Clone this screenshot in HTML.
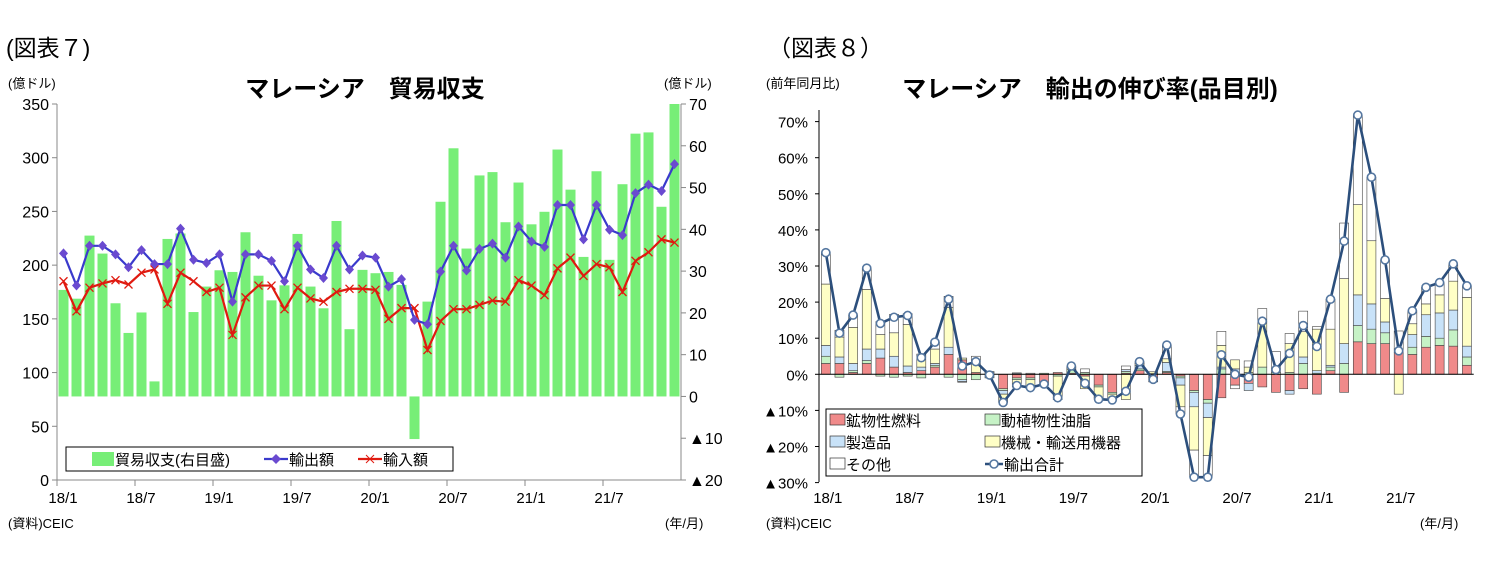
<!DOCTYPE html>
<html><head><meta charset="utf-8">
<style>
body{margin:0;background:#fff;width:1493px;height:574px;overflow:hidden;font-family:"Liberation Sans","Noto Sans CJK JP",sans-serif;}
svg text{font-family:"Liberation Sans","Noto Sans CJK JP",sans-serif;}
</style></head>
<body>
<svg id="s" width="1493" height="574" xmlns="http://www.w3.org/2000/svg">
<text x="6" y="56" font-size="23">(図表７)</text>
<text x="768" y="56" font-size="23">（図表８）</text>
<text x="365" y="97" font-size="24" font-weight="bold" text-anchor="middle">マレーシア　貿易収支</text>
<text x="1090" y="97" font-size="24" font-weight="bold" text-anchor="middle">マレーシア　輸出の伸び率(品目別)</text>
<text x="8" y="88" font-size="13">(億ドル)</text>
<text x="664" y="88" font-size="13">(億ドル)</text>
<text x="766" y="88" font-size="13">(前年同月比)</text>
<text x="8" y="528" font-size="13">(資料)CEIC</text>
<text x="766" y="528" font-size="13">(資料)CEIC</text>
<text x="665" y="528" font-size="13">(年/月)</text>
<text x="1420" y="528" font-size="13">(年/月)</text>
<g id="left"></g><g id="right"></g>
</svg>
<script>
const months=[];for(let y=18;y<=21;y++)for(let m=1;m<=12;m++)months.push(y+'/'+m);
const balance=[25.5,23.4,38.5,34.2,22.3,15.2,20.1,3.6,37.7,39,20.2,26.3,30.2,29.8,39.3,28.9,23.0,26.6,38.9,26.3,21.1,42.0,16.1,30.3,29.5,29.8,26.7,-10.2,22.7,46.6,59.4,35.4,52.9,53.7,41.7,51.2,41.2,44.2,59.1,49.5,33.4,53.9,32.7,50.8,62.9,63.2,45.4,70.0];
const exportsV=[211,181,218,218,210,198,214,201,201,234,205,202,210,166,210,210,204,185,218,196,188,218,196,209,207,180,187,149,145,194,218,195,215,220,207,236,222,217,256,256,224,256,233,228,267,275,269,294];
const importsV=[185,157,179,183,186,182,193,196,164,193,185,175,179,135,170,181,181,159,179,169,166,175,178,178,177,150,160,160,121,148,159,159,163,167,166,186,181,172,197,207,190,201,198,175,204,212,224,221];
const leftTicks=[0,50,100,150,200,250,300,350];
const rightTicks=[-20,-10,0,10,20,30,40,50,60,70];
const fuel=[3,3,0.5,3,4.5,2,0.5,1,2,5.5,4,0.5,0,-4,-1,-1,-3,0.5,0.3,-0.5,-3,-5,0.3,1,-1,0.5,-0.5,-4.5,-7,-6.5,-3,-2.5,-3.5,-5,-4.5,-4,-5.5,1,-5,9,8.5,8.5,6,5.5,7.5,8,7.8,2.5];
const oils=[2,-0.8,0.5,0.8,-0.5,-0.8,-0.5,-1,0.5,-0.8,-1.5,-1.5,-1,-0.5,-0.5,-0.5,0.3,-0.5,1,0.5,-0.5,-0.5,0.5,0.5,0.2,0.3,-0.5,-0.5,-1,1.5,0.5,0.5,2,0.5,0.5,3,0.3,1,3,4.5,4,3,1,2,3,2,4.5,2.3];
const mfg=[3,1.8,2,3.2,2.5,3,1.8,1,0.5,2,-0.5,0,0.5,-1,0.3,0,0,0,0,0,0,0,0.5,1,0,2.5,-2,-4,-4,0.5,1,-2,0,0,-1,1.8,0.7,0.5,5.5,8.5,7,3,0,3.5,6,7,5.5,3];
const mach=[17,5.5,10,16.5,4,6.5,11.5,3,4,11,0.5,3.5,0,-2,-2,-2.5,0,-6,0.5,-3.5,-3,-1,-7,0.5,0.5,1,-6,-12,-10.5,6,2.5,1.5,12.5,1,8,7,11.5,10,18,25,17.5,6.5,-5.5,3,3,5,8,13.5];
const other=[8.7,1.9,3.4,5.9,3.6,5.1,3,0.6,1.9,3.1,-0.2,1,0.3,-0.3,0.1,0.3,0,-0.5,0.5,1,-0.4,-0.6,1,0.5,-1.1,3.8,-2,-7.5,-6,3.9,-1,1.7,3.7,4.8,2.8,5.7,0.7,8.3,15.4,24.8,17.6,10.7,5,3.6,4.6,3.4,4.6,3.2];
const total=[33.7,11.4,16.4,29.4,14.1,15.8,16.3,4.6,8.9,20.8,2.3,3.5,-0.2,-7.8,-3.1,-3.7,-2.7,-6.5,2.3,-2.5,-6.9,-7.1,-4.7,3.5,-1.4,8.1,-11,-28.5,-28.5,5.4,0,-0.8,14.7,1.3,5.8,13.5,7.7,20.8,36.9,71.8,54.6,31.7,6.5,17.6,24.1,25.4,30.6,24.5];
const pctTicks=[-30,-20,-10,0,10,20,30,40,50,60,70];
const xLabels=['18/1','18/7','19/1','19/7','20/1','20/7','21/1','21/7'];

const NS='http://www.w3.org/2000/svg';
function mk(p,t,a){const e=document.createElementNS(NS,t);for(const k in a)e.setAttribute(k,a[k]);p.appendChild(e);return e;}
const L=document.getElementById('left'),R=document.getElementById('right');
// LEFT
const lx0=57,lx1=681,bw=(lx1-lx0)/48;
const yl=v=>480-(v/350)*376;
const yr=v=>396.4-(v/90)*376*1;
const yr2=v=>480-((v+20)/90)*376;
const xc=i=>lx0+bw*(i+0.5);
balance.forEach((v,i)=>{const y0=yr2(0),y1=yr2(v);
 const b=mk(L,'rect',{x:xc(i)-5,y:Math.min(y0,y1),width:10,height:Math.abs(y1-y0),fill:'#77ee77'});
 });
mk(L,'line',{x1:lx0,y1:104,x2:lx0,y2:480,stroke:'#888'});
mk(L,'line',{x1:lx1,y1:104,x2:lx1,y2:480,stroke:'#888'});
mk(L,'line',{x1:lx0,y1:480,x2:lx1,y2:480,stroke:'#888'});
leftTicks.forEach(v=>{mk(L,'line',{x1:lx0-5,y1:yl(v),x2:lx0,y2:yl(v),stroke:'#888'});
 const t=mk(L,'text',{x:lx0-8,y:yl(v)+6,'font-size':16,'text-anchor':'end'});t.textContent=v;
 });
rightTicks.forEach(v=>{mk(L,'line',{x1:lx1,y1:yr2(v),x2:lx1+5,y2:yr2(v),stroke:'#888'});
 const t=mk(L,'text',{x:lx1+8,y:yr2(v)+6,'font-size':16});t.textContent=v<0?'▲'+(-v):v;
 });
xLabels.forEach((s,k)=>{const x=lx0+bw*6*k;mk(L,'line',{x1:x,y1:480,x2:x,y2:486,stroke:'#888'});
 const t=mk(L,'text',{x:x+6,y:503,'font-size':15,'text-anchor':'middle'});t.textContent=s;
 });
function line(p,arr,f,col,name){const pts=arr.map((v,i)=>xc(i)+','+f(v)).join(' ');
 const e=mk(p,'polyline',{points:pts,fill:'none',stroke:col,'stroke-width':2.2});
 }
line(L,importsV,yl,'#e01a10','imports-line');
importsV.forEach((v,i)=>{const x=xc(i),y=yl(v);mk(L,'path',{d:`M${x-4} ${y-4}L${x+4} ${y+4}M${x-4} ${y+4}L${x+4} ${y-4}`,stroke:'#e01a10','stroke-width':1.3});});
line(L,exportsV,yl,'#3a3acc','exports-line');
exportsV.forEach((v,i)=>{const x=xc(i),y=yl(v);const d=mk(L,'path',{d:`M${x} ${y-5}L${x+4.5} ${y}L${x} ${y+5}L${x-4.5} ${y}Z`,fill:'#6a4ad0'});
 });
// left legend
const lg=mk(L,'g',{});
mk(lg,'rect',{x:66,y:447,width:387,height:24,fill:'#fff',stroke:'#000'});
mk(lg,'rect',{x:92,y:452,width:22,height:14,fill:'#77ee77'});
mk(lg,'text',{x:115,y:465,'font-size':15}).textContent='貿易収支(右目盛)';
mk(lg,'line',{x1:264,y1:459,x2:288,y2:459,stroke:'#3a3acc','stroke-width':2.2});
mk(lg,'path',{d:'M276 454L281 459L276 464L271 459Z',fill:'#6a4ad0'});
mk(lg,'text',{x:289,y:465,'font-size':15}).textContent='輸出額';
mk(lg,'line',{x1:358,y1:459,x2:382,y2:459,stroke:'#e01a10','stroke-width':2.2});
mk(lg,'path',{d:'M366 455L374 463M366 463L374 455',stroke:'#e01a10'});
mk(lg,'text',{x:383,y:465,'font-size':15}).textContent='輸入額';

// RIGHT
const rx0=819,rbw=13.64,rx=i=>rx0+rbw*(i+0.5);
const yp=v=>374.3-v*3.61;
const comps=[[fuel,'#f08a8a','fuel'],[oils,'#c6f2c6','oils'],[mfg,'#c8e2f8','manufactured'],[mach,'#ffffc6','machinery'],[other,'#ffffff','other']];
for(let i=0;i<48;i++){let pos=0,neg=0;
 comps.forEach(([arr,col,nm])=>{const v=arr[i];let a,b;
  if(v>=0){a=pos;b=pos+v;pos=b;}else{a=neg;b=neg+v;neg=b;}
  const r=mk(R,'rect',{x:rx(i)-4.5,y:Math.min(yp(a),yp(b)),width:9,height:Math.abs(yp(a)-yp(b)),fill:col,stroke:'#444','stroke-width':0.6});
  });}
mk(R,'line',{x1:rx0,y1:110,x2:rx0,y2:482,stroke:'#000'});
mk(R,'line',{x1:rx0,y1:yp(0),x2:rx0+rbw*48,y2:yp(0),stroke:'#000'});
pctTicks.forEach(v=>{mk(R,'line',{x1:rx0-4,y1:yp(v),x2:rx0,y2:yp(v),stroke:'#000'});
 const t=mk(R,'text',{x:rx0-11,y:yp(v)+6,'font-size':15,'text-anchor':'end'});t.textContent=(v<0?'▲'+(-v):v)+'%';
 });
xLabels.forEach((s,k)=>{const t=mk(R,'text',{x:rx(6*k)+2,y:503,'font-size':15,'text-anchor':'middle'});t.textContent=s;
 });
const tl=mk(R,'polyline',{points:total.map((v,i)=>rx(i)+','+yp(v)).join(' '),fill:'none',stroke:'#2c4f7c','stroke-width':2.6});

total.forEach((v,i)=>{const c=mk(R,'circle',{cx:rx(i),cy:yp(v),r:4,fill:'#fff',stroke:'#5577a0','stroke-width':1.6});
 });
const rg=mk(R,'g',{});
mk(rg,'rect',{x:826,y:409,width:316,height:67,fill:'#fff',stroke:'#000'});
const li=[['#f08a8a','鉱物性燃料',830,420],['#c6f2c6','動植物性油脂',985,420],['#c8e2f8','製造品',830,442],['#ffffc6','機械・輸送用機器',985,442],['#ffffff','その他',830,464]];
li.forEach(([c,t,x,y])=>{mk(rg,'rect',{x:x,y:y-6,width:15,height:11,fill:c,stroke:'#333','stroke-width':0.7});
 mk(rg,'text',{x:x+16,y:y+6,'font-size':15}).textContent=t;});
mk(rg,'line',{x1:985,y1:464,x2:1003,y2:464,stroke:'#2c4f7c','stroke-width':2.4});
mk(rg,'circle',{cx:994,cy:464,r:4,fill:'#fff',stroke:'#5577a0','stroke-width':1.6});
mk(rg,'text',{x:1004,y:470,'font-size':15}).textContent='輸出合計';
</script>
</body></html>
